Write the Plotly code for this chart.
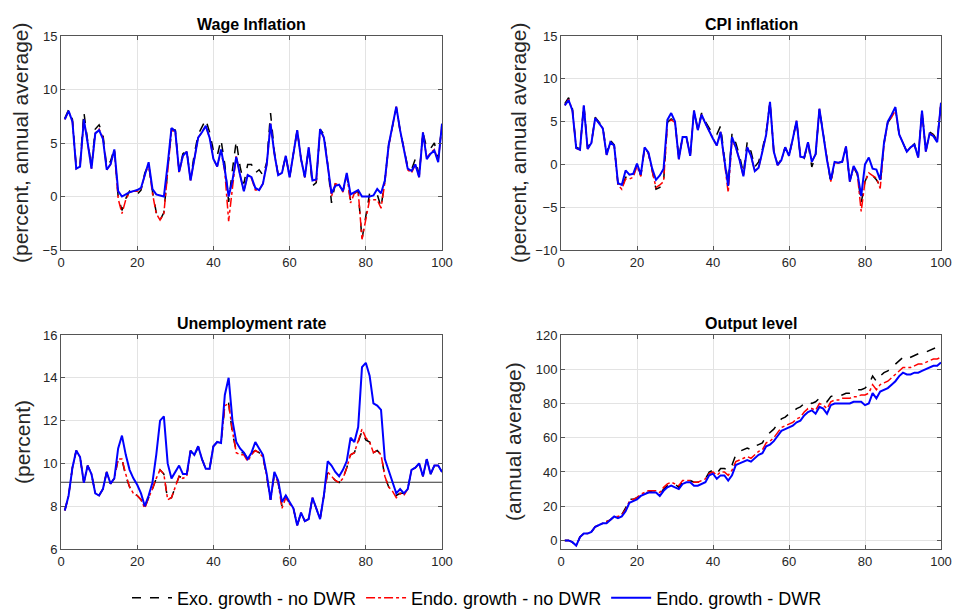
import plotly.graph_objects as go

periods = list(range(1, 101))

# ---- Wage inflation ----
wage_exo = [7.3, 8.1, 7.2, 2.8, 3.0, 7.9, 5.2, 2.8, 6.3, 6.7,
            5.8, 2.8, 3.3, 4.5, 0.0, -1.3, -0.2, 0.5, 0.3, 0.2,
            0.6, 2.2, 3.0, 0.5, -1.5, -2.2, -1.5, 2.5, 6.3, 6.2,
            2.5, 4.0, 4.3, 1.6, 4.0, 5.8, 6.5, 7.2, 6.0, 4.3,
            3.8, 5.3, 3.0, -0.5, 2.5, 5.2, 2.8, 1.2, 3.0, 3.0,
            2.2, 2.5, 2.0, 3.2, 7.8, 4.2, 2.0, 2.3, 3.8, 1.8,
            4.0, 6.2, 3.5, 1.8, 4.5, 1.0, 1.3, 6.3, 5.8, 3.0,
            -0.6, 1.2, 1.2, 0.5, 2.0, -0.4, 0.3, 0.5, -4.0, -2.0,
            0.3, 0.2, 0.2, -1.0, 1.5, 4.8, 6.5, 8.3, 6.2, 4.6,
            2.8, 2.5, 3.5, 2.0, 6.0, 4.5, 4.5, 5.0, 3.5, 6.8]
wage_endo = [7.2, 8.0, 7.0, 2.6, 2.8, 7.2, 5.0, 2.6, 5.9, 6.3,
             5.5, 2.5, 3.0, 4.3, -0.2, -1.6, -0.3, 0.4, 0.5, 0.5,
             0.7, 2.0, 3.0, 0.3, -1.6, -2.2, -1.6, 2.5, 6.2, 6.0,
             2.2, 3.8, 4.2, 1.5, 3.5, 5.5, 6.0, 6.6, 5.5, 3.5,
             2.8, 4.3, 2.3, -2.3, 0.8, 3.8, 2.0, 0.5, 2.0, 1.7,
             0.6, 0.6, 1.2, 3.0, 6.8, 4.0, 2.0, 2.2, 3.8, 1.8,
             4.0, 6.2, 3.5, 1.8, 4.6, 1.5, 1.5, 6.2, 5.5, 3.0,
             0.0, 1.2, 1.1, 0.4, 2.1, -0.6, 0.3, 0.5, -4.0, -2.0,
             -0.3, -0.3, -0.3, -1.1, 1.3, 4.7, 6.5, 8.4, 6.1, 4.5,
             2.5, 2.2, 3.0, 1.8, 6.0, 3.6, 4.1, 4.4, 3.3, 6.7]
wage_dwr = [7.2, 8.0, 7.0, 2.6, 2.8, 7.2, 5.0, 2.6, 5.9, 6.2,
            5.4, 2.5, 3.0, 4.4, 0.5, 0.0, 0.2, 0.4, 0.5, 0.6,
            0.8, 2.0, 3.2, 0.7, 0.2, 0.1, 0.0, 3.0, 6.4, 6.1,
            2.3, 3.8, 4.2, 1.5, 3.5, 5.5, 6.0, 6.6, 5.5, 3.5,
            2.8, 4.4, 2.5, 0.0, 1.5, 3.7, 2.0, 0.5, 2.0, 1.8,
            0.8, 0.6, 1.2, 3.0, 6.8, 4.0, 2.0, 2.2, 3.8, 1.8,
            4.0, 6.2, 3.5, 1.8, 4.6, 1.5, 1.6, 6.3, 5.5, 3.0,
            0.3, 1.0, 1.1, 0.5, 2.2, 0.2, 0.4, 0.6, 0.0, 0.0,
            0.0, 0.1, 0.7, 0.3, 1.5, 4.8, 6.5, 8.4, 6.2, 4.5,
            2.6, 2.4, 3.0, 1.8, 6.0, 3.5, 4.0, 4.3, 3.2, 6.8]

# ---- CPI inflation ----
cpi_exo = [7.1, 7.8, 6.5, 2.0, 1.8, 7.0, 2.0, 2.6, 5.5, 5.0,
           4.4, 1.3, 2.8, 2.3, -2.3, -2.8, -1.5, -1.5, -1.3, 0.0,
           -1.3, 2.0, 1.3, -0.7, -2.9, -2.7, -2.0, 4.9, 5.3, 5.0,
           0.8, 3.2, 3.2, 1.0, 6.2, 4.2, 6.0, 5.0, 4.3, 3.5,
           3.5, 4.5, 0.8, -2.2, 3.6, 2.5, 1.0, -1.0, 2.6, 1.5,
           -0.3, 0.3, 1.8, 3.8, 7.3, 1.5, 0.0, 0.6, 2.0, 1.0,
           3.0, 5.1, 0.9, 0.7, 2.5, -0.3, 1.0, 6.5, 3.6, 0.5,
           -2.2, 0.2, 0.2, 0.3, 2.0, -2.0, -0.3, -1.2, -4.5, -2.0,
           -1.0, -1.3, -1.8, -2.5, 2.5, 4.9, 5.5, 6.5, 3.5, 2.5,
           1.5, 2.0, 2.4, 0.8, 6.3, 1.5, 3.8, 3.5, 2.8, 7.2]
cpi_endo = [6.9, 7.6, 6.3, 1.9, 1.7, 6.9, 1.8, 2.5, 5.4, 4.8,
            4.2, 1.1, 2.6, 2.2, -2.4, -2.9, -1.7, -1.7, -1.5, -0.2,
            -1.4, 1.9, 1.3, -0.8, -2.7, -2.4, -2.0, 4.8, 5.2, 4.9,
            0.6, 3.2, 3.2, 1.0, 6.3, 4.0, 5.8, 4.8, 3.8, 3.0,
            2.2, 3.8, 0.3, -3.3, 2.8, 2.0, 0.5, -1.4, 2.0, 1.0,
            -0.8, -0.4, 1.5, 3.5, 7.3, 1.5, -0.1, 0.5, 2.0, 1.0,
            3.0, 5.1, 0.9, 0.8, 2.6, 0.3, 1.2, 6.5, 3.5, 0.5,
            -2.0, 0.2, 0.2, 0.3, 2.1, -2.0, -0.3, -1.2, -5.5, -2.0,
            -1.0, -1.3, -1.6, -2.8, 2.3, 5.0, 5.5, 6.3, 3.5, 2.5,
            1.5, 2.0, 2.3, 0.8, 6.3, 1.5, 3.6, 3.4, 2.7, 7.2]
cpi_dwr = [6.9, 7.5, 6.3, 1.9, 1.7, 6.9, 1.8, 2.5, 5.4, 4.8,
           4.2, 1.1, 2.6, 2.2, -2.2, -2.4, -0.7, -1.2, -1.1, 0.1,
           -1.2, 2.0, 1.4, -0.5, -1.8, -1.3, -0.5, 5.2, 6.0, 5.0,
           0.6, 3.2, 3.2, 1.0, 6.3, 4.0, 5.8, 4.8, 3.8, 3.0,
           2.2, 3.8, 0.5, -2.5, 3.2, 2.0, 0.5, -1.4, 2.0, 1.0,
           -0.8, -0.4, 1.5, 3.5, 7.3, 1.5, -0.1, 0.5, 2.0, 1.0,
           3.0, 5.1, 0.9, 0.8, 2.6, 0.3, 1.2, 6.5, 3.5, 0.5,
           -1.8, 0.3, 0.2, 0.3, 2.1, -2.0, -0.2, -1.0, -3.7, 0.0,
           0.8, -0.5, -0.6, -1.8, 2.5, 5.0, 5.8, 6.7, 3.5, 2.5,
           1.5, 2.0, 2.3, 0.8, 6.3, 1.5, 3.6, 3.3, 2.6, 7.2]

# ---- Unemployment rate ----
unemp_exo = [7.8, 8.5, 9.8, 10.6, 10.3, 9.1, 9.9, 9.5, 8.6, 8.5,
             8.8, 9.6, 9.05, 9.3, 10.2, 10.2, 9.4, 8.9, 8.6, 8.5,
             8.3, 7.95, 8.4, 8.8, 9.3, 9.7, 9.5, 8.3, 8.4, 8.9,
             9.4, 9.3, 9.4, 10.6, 10.3, 10.8, 10.2, 9.75, 9.75, 10.8,
             11.0, 10.95, 12.7, 12.8, 11.4, 10.6, 10.5, 10.5, 10.2, 10.5,
             10.6, 10.5, 10.3, 9.4, 8.3, 9.5, 9.1, 8.0, 8.5, 8.1,
             7.9, 7.1, 7.7, 7.3, 7.4, 8.4, 7.9, 7.4, 8.5, 9.6,
             9.4, 9.2, 9.1, 9.3, 9.8, 10.4, 10.5, 11.0, 11.5, 11.1,
             11.0, 10.5, 10.6, 10.4, 9.4, 8.9, 8.7, 8.5, 8.6, 8.6,
             8.8, 9.7, 9.8, 10.0, 9.4, 10.2, 9.5, 9.9, 9.9, 9.6]
unemp_endo = [7.8, 8.5, 9.8, 10.6, 10.3, 9.1, 9.9, 9.5, 8.6, 8.5,
              8.8, 9.6, 9.05, 9.3, 10.2, 10.2, 9.5, 8.9, 8.6, 8.5,
              8.3, 7.9, 8.4, 8.8, 9.3, 9.7, 9.5, 8.3, 8.4, 8.9,
              9.4, 9.3, 9.4, 10.6, 10.4, 10.8, 10.2, 9.75, 9.75, 10.8,
              11.0, 10.95, 12.7, 12.8, 11.5, 10.5, 10.4, 10.4, 10.1, 10.4,
              10.6, 10.5, 10.3, 9.4, 8.3, 9.5, 9.1, 7.9, 8.4, 8.1,
              7.9, 7.1, 7.7, 7.3, 7.4, 8.4, 7.9, 7.4, 8.5, 9.6,
              9.4, 9.2, 9.1, 9.3, 9.8, 10.4, 10.5, 11.0, 11.6, 11.2,
              11.0, 10.5, 10.6, 10.4, 9.4, 8.9, 8.7, 8.4, 8.6, 8.5,
              8.8, 9.7, 9.8, 10.0, 9.4, 10.2, 9.5, 9.9, 9.9, 9.6]
unemp_dwr = [7.8, 8.5, 9.8, 10.6, 10.3, 9.1, 9.9, 9.5, 8.6, 8.5,
             8.8, 9.6, 9.05, 9.3, 10.7, 11.3, 10.4, 9.7, 9.3, 9.0,
             8.6, 8.0, 8.5, 9.1, 10.4, 12.0, 12.2, 10.0, 9.3, 9.6,
             9.9, 9.5, 9.5, 10.6, 10.4, 10.8, 10.2, 9.75, 9.75, 10.8,
             11.0, 10.95, 13.2, 14.0, 12.0, 11.0, 10.7, 10.5, 10.2, 10.5,
             11.0, 10.7, 10.4, 9.5, 8.3, 9.6, 9.2, 8.2, 8.5, 8.2,
             7.9, 7.1, 7.7, 7.3, 7.4, 8.4, 7.9, 7.4, 8.5, 10.1,
             9.9, 9.6, 9.4, 9.7, 10.1, 11.2, 11.0, 11.7, 14.5, 14.7,
             14.1, 12.8, 12.7, 12.5, 10.2, 9.7, 9.1, 8.6, 8.8, 8.6,
             8.8, 9.7, 9.8, 10.0, 9.4, 10.2, 9.5, 9.9, 9.9, 9.6]
natural_rate = 9.12

# ---- Output level ----
output_exo = [0, 0, -1, -3, 2, 4, 4, 5, 8, 9,
              10, 11, 12, 14, 14, 15, 19, 24, 24, 25,
              27, 28, 28, 29, 29, 27, 30, 32, 33, 33,
              31, 34, 35, 35, 34, 34, 35, 36, 40, 41,
              39, 42, 42, 41, 44, 50, 52, 53, 54, 53,
              55, 56, 57, 61, 63, 65, 68, 71, 72, 74,
              75, 77, 78, 80, 81, 80, 81, 83, 82, 81,
              84, 85, 85, 85, 86, 86, 87, 88, 88, 89,
              91, 96, 93, 96, 98, 99, 101, 103, 105, 107,
              106, 107, 108, 109, 110, 110, 111, 112, 113, 113]
output_endo = [0, 0, -1, -3, 2, 4, 4, 5, 8, 9,
               10, 11, 12, 14, 14, 15, 18, 23, 24, 25,
               27, 28, 29, 29, 29, 28, 31, 33, 34, 33,
               32, 35, 35, 35, 34, 34, 35, 36, 39, 40,
               38, 40, 40, 38, 41, 46, 47, 48, 49, 48,
               50, 52, 53, 57, 58, 60, 63, 66, 67, 68,
               69, 71, 72, 75, 77, 77, 76, 80, 79, 77,
               81, 82, 82, 83, 83, 83, 84, 84, 85, 85,
               86, 91, 88, 91, 92, 93, 95, 97, 99, 101,
               101, 101, 102, 103, 103, 104, 105, 106, 106, 107]
output_dwr = [0, 0, -1, -3, 2, 4, 4, 5, 8, 9,
              10, 10, 12, 14, 13, 14, 17, 22, 23, 24,
              26, 27, 28, 28, 28, 26, 29, 31, 32, 31,
              30, 33, 34, 34, 32, 32, 33, 34, 38, 39,
              36, 38, 38, 35, 38, 44, 45, 46, 47, 46,
              48, 50, 51, 55, 56, 58, 61, 64, 65, 66,
              67, 69, 70, 73, 75, 76, 74, 78, 77, 74,
              79, 80, 80, 80, 80, 80, 81, 81, 81, 79,
              80, 86, 83, 87, 88, 89, 91, 93, 96, 98,
              97, 97, 98, 98, 99, 100, 101, 102, 102, 104]

x_ticks = [0, 20, 40, 60, 80, 100]
panel_titles = ["Wage Inflation", "CPI inflation", "Unemployment rate", "Output level"]
y_labels = ["(percent, annual average)", "(percent, annual average)", "(percent)", "(annual average)"]
y_ranges = [[-5, 15], [-10, 15], [6, 16], [-5, 120]]
y_ticks = [[-5, 0, 5, 10, 15], [-10, -5, 0, 5, 10, 15], [6, 8, 10, 12, 14, 16], [0, 20, 40, 60, 80, 100, 120]]
series_names = ["Exo. growth - no DWR", "Endo. growth - no DWR", "Endo. growth - DWR"]
panel_data = [
    (wage_exo, wage_endo, wage_dwr),
    (cpi_exo, cpi_endo, cpi_dwr),
    (unemp_exo, unemp_endo, unemp_dwr),
    (output_exo, output_endo, output_dwr),
]

W, H = 954, 614
# pixel boxes of the four plot areas: (left, right, top, bottom)
boxes = [(61, 442, 36, 250), (561, 941, 36, 250), (61, 442, 335, 549), (561, 941, 335, 549)]
title_y_px = [24, 24, 323, 323]
ylabel_x_px = [20, 518, 22, 513]

FONT = "Liberation Sans, Arial, Helvetica, sans-serif"
AX = "#262626"

styles = [
    dict(color="#000000", width=1.5, dash="dash"),
    dict(color="#ff0000", width=1.5, dash="dashdot"),
    dict(color="#0000ff", width=2, dash="solid"),
]

fig = go.Figure()
layout = dict(
    width=W, height=H,
    margin=dict(l=0, r=0, t=0, b=0, autoexpand=False),
    paper_bgcolor="white", plot_bgcolor="white",
    font=dict(family=FONT, color=AX),
    showlegend=True,
    legend=dict(orientation="h", x=0.5, xanchor="center", y=(H - 598) / H, yanchor="middle",
                font=dict(size=18, color="#000000"), bgcolor="rgba(0,0,0,0)",
                itemwidth=40, tracegroupgap=0),
    annotations=[],
)

for i in range(4):
    l, r, t, b = boxes[i]
    sfx = "" if i == 0 else str(i + 1)
    layout["xaxis" + sfx] = dict(
        domain=[l / W, r / W], anchor="y" + sfx, range=[0, 100], tickvals=x_ticks,
        showgrid=True, gridcolor="#e3e3e3", gridwidth=1, zeroline=False,
        showline=True, linecolor="#555555", linewidth=1, mirror="ticks",
        ticks="inside", ticklen=4, tickcolor="#555555", automargin=False,
        tickfont=dict(size=13, color=AX, family=FONT),
    )
    layout["yaxis" + sfx] = dict(
        domain=[(H - b) / H, (H - t) / H], anchor="x" + sfx, range=y_ranges[i], tickvals=y_ticks[i],
        showgrid=True, gridcolor="#e3e3e3", gridwidth=1, zeroline=False,
        showline=True, linecolor="#555555", linewidth=1, mirror="ticks",
        ticks="inside", ticklen=4, tickcolor="#555555", automargin=False,
        tickfont=dict(size=13, color=AX, family=FONT),
    )
    layout["annotations"].append(dict(
        text="<b>" + panel_titles[i] + "</b>", xref="paper", yref="paper",
        x=(l + r) / 2 / W, y=(H - title_y_px[i]) / H, xanchor="center", yanchor="middle",
        showarrow=False, font=dict(size=16, color="#000000", family=FONT)))
    layout["annotations"].append(dict(
        text=y_labels[i], xref="paper", yref="paper", textangle=-90,
        x=ylabel_x_px[i] / W, y=(H - (t + b) / 2) / H, xanchor="center", yanchor="middle",
        showarrow=False, font=dict(size=21, color=AX, family=FONT)))

    xa = "x" + sfx
    ya = "y" + sfx
    if i == 2:
        fig.add_trace(go.Scatter(x=[0, 100], y=[natural_rate, natural_rate], mode="lines",
                                 line=dict(color="#333333", width=1.2), showlegend=False,
                                 hoverinfo="skip", xaxis=xa, yaxis=ya))
    for k in range(3):
        fig.add_trace(go.Scatter(
            x=periods, y=panel_data[i][k], mode="lines", name=series_names[k],
            line=styles[k], legendgroup=series_names[k], showlegend=(i == 0),
            xaxis=xa, yaxis=ya))

fig.update_layout(**layout)
fig.write_html("out.html", config={"displayModeBar": False},
               post_script="document.body.style.margin='0';document.body.style.overflow='hidden';")
